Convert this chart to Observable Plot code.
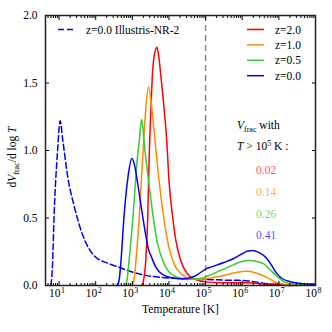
<!DOCTYPE html>
<html><head><meta charset="utf-8">
<script src="https://cdn.jsdelivr.net/npm/d3@7"></script>
<script src="https://cdn.jsdelivr.net/npm/@observablehq/plot@0.6"></script>
<style>body{margin:0;background:#fff}</style>
</head><body><div id="chart"></div>
<script>
// ---- data ----
const seriesNames = ["z=2.0", "z=1.0", "z=0.5", "z=0.0"];
const seriesColors = ["#ff0000", "#ff8c00", "#33cc33", "#0000ff"];
const hotFractions = ["0.02", "0.14", "0.26", "0.41"];
const illustrisName = "z=0.0 Illustris-NR-2";
const illustrisColor = "#0000ff";

const z20_logT = [3.25,3.30,3.37,3.42,3.46,3.51,3.55,3.61,3.67,3.72,3.78,3.87,3.94,4.00,4.10,4.19,4.32,4.50,4.68,5.05,5.50,6.00,6.30,6.60,7.00,7.50];
const z20_val  = [0,0.03,0.20,0.50,0.95,1.32,1.57,1.72,1.765,1.70,1.55,1.30,1.07,0.78,0.51,0.33,0.185,0.087,0.05,0.025,0.02,0.02,0.018,0.01,0.003,0];

const z10_logT = [3.00,3.05,3.10,3.19,3.26,3.31,3.37,3.44,3.53,3.62,3.70,3.78,3.87,4.00,4.14,4.32,4.60,4.84,5.20,5.58,5.90,6.12,6.35,6.59,6.80,6.94,7.20,7.60];
const z10_val  = [0,0.05,0.185,0.51,0.85,1.07,1.32,1.47,1.32,1.07,0.85,0.66,0.48,0.28,0.16,0.089,0.05,0.045,0.06,0.08,0.10,0.105,0.095,0.07,0.04,0.02,0.008,0.002];

const z05_logT = [2.80,2.85,2.92,3.00,3.05,3.14,3.19,3.25,3.29,3.32,3.41,3.51,3.60,3.69,3.83,4.00,4.23,4.50,4.80,5.05,5.40,5.77,6.00,6.18,6.40,6.59,6.75,6.94,7.10,7.29,7.60,8.00];
const z05_val  = [0,0.03,0.21,0.45,0.63,0.95,1.07,1.23,1.17,1.07,0.85,0.63,0.45,0.31,0.185,0.10,0.062,0.045,0.05,0.07,0.11,0.155,0.178,0.185,0.178,0.16,0.12,0.07,0.035,0.015,0.005,0.002];

const z00_logT = [2.55,2.60,2.65,2.69,2.77,2.88,2.99,3.07,3.15,3.29,3.45,3.51,3.64,3.83,4.14,4.41,4.69,5.03,5.14,5.50,5.77,6.00,6.15,6.29,6.45,6.67,6.80,6.94,7.10,7.29,7.60,8.00];
const z00_val  = [0,0.005,0.06,0.18,0.50,0.80,0.94,0.88,0.75,0.50,0.26,0.22,0.136,0.08,0.054,0.05,0.067,0.125,0.136,0.17,0.20,0.235,0.255,0.26,0.245,0.20,0.15,0.09,0.05,0.03,0.015,0.008];

const ill_logT = [0.78,0.82,0.87,0.96,1.03,1.10,1.24,1.42,1.65,1.96,2.33,2.64,3.00,3.37,3.80,4.27,4.60,5.00,5.50,5.90,6.10,6.40,6.70,7.00,7.30];
const ill_val  = [0,0.15,0.555,1.00,1.22,1.08,0.80,0.58,0.37,0.22,0.165,0.135,0.10,0.075,0.06,0.052,0.048,0.045,0.04,0.038,0.036,0.025,0.012,0.005,0];

const yTicks = [0, 0.5, 1.0, 1.5, 2.0];
const xExponents = [1, 2, 3, 4, 5, 6, 7, 8];
const xDomainLog = [0.63, 8];
const cutLogT = 5;

// ---- build tables ----
const seriesLogT = [z20_logT, z10_logT, z05_logT, z00_logT];
const seriesVal = [z20_val, z10_val, z05_val, z00_val];
const rows = seriesNames.flatMap((s, i) => seriesLogT[i].map((t, j) => ({s, T: 10 ** t, v: seriesVal[i][j]})));
const illRows = ill_logT.map((t, j) => ({T: 10 ** t, v: ill_val[j]}));
const majorX = xExponents.map(e => 10 ** e);
const minorX = [];
for (let e = 0; e < 8; e++) for (let m = 2; m <= 9; m++) {
  const v = m * 10 ** e;
  if (v >= 10 ** xDomainLog[0] && v <= 10 ** xDomainLog[1]) minorX.push(v);
}
const FONT = "Liberation Serif";

const plot = Plot.plot({
  width: 332, height: 332,
  marginLeft: 45, marginRight: 17, marginTop: 15, marginBottom: 47,
  style: {fontFamily: FONT, fontSize: "11.5px", background: "#fff", color: "#000"},
  x: {type: "log", domain: xDomainLog.map(e => 10 ** e)},
  y: {domain: [0, 2]},
  color: {domain: seriesNames, range: seriesColors},
  marks: [
    Plot.ruleX([10 ** cutLogT], {stroke: "#808080", strokeWidth: 1.4, strokeDasharray: "6,4"}),
    Plot.line(illRows, {x: "T", y: "v", stroke: illustrisColor, strokeWidth: 1.5, strokeDasharray: "6,3", curve: "monotone-x"}),
    Plot.line(rows, {x: "T", y: "v", z: "s", stroke: "s", strokeWidth: 1.5, curve: "monotone-x"}),
    // inward ticks
    Plot.axisX({anchor: "bottom", ticks: majorX, tickSize: -4, fill: "none", label: null}),
    Plot.axisX({anchor: "top", ticks: majorX, tickSize: -4, fill: "none", label: null}),
    Plot.axisX({anchor: "bottom", ticks: minorX, tickSize: -2, fill: "none", label: null}),
    Plot.axisX({anchor: "top", ticks: minorX, tickSize: -2, fill: "none", label: null}),
    Plot.axisY({anchor: "left", ticks: yTicks, tickSize: -4, fill: "none", label: null}),
    Plot.axisY({anchor: "right", ticks: yTicks, tickSize: -4, fill: "none", label: null}),
    // tick labels
    Plot.axisY({anchor: "left", ticks: yTicks, tickSize: 0, tickPadding: 8, tickFormat: d3.format(".1f"), label: null}),
    Plot.text(majorX, {x: d => d, frameAnchor: "bottom", dy: 11, dx: 1.5, text: () => "10", textAnchor: "end", fontSize: 11.5}),
    Plot.text(majorX, {x: d => d, frameAnchor: "bottom", dy: 7.5, dx: 2, text: d => String(Math.round(Math.log10(d))), textAnchor: "start", fontSize: 8}),
    Plot.text(["Temperature [K]"], {frameAnchor: "bottom", dy: 27, text: d => d, fontSize: 11.5}),
    Plot.frame({stroke: "#222", strokeWidth: 1.5})
  ]
});
document.getElementById("chart").append(plot);

// ---- labels, legends, annotation (pixel layout) ----
const svg = d3.select(plot);
// y label
const yl = svg.append("text").attr("transform", "translate(16,157) rotate(-90)")
  .attr("text-anchor", "middle").attr("font-family", FONT).attr("font-size", 11.5).attr("fill", "#000");
yl.append("tspan").text("d");
yl.append("tspan").attr("font-style", "italic").text("V");
yl.append("tspan").attr("font-size", 8).attr("dy", 2.5).text("frac");
yl.append("tspan").attr("dy", -2.5).text("/d log ");
yl.append("tspan").attr("font-style", "italic").text("T");

// legends and annotation
const lg = svg.append("g").attr("font-family", FONT).attr("font-size", 11.5).attr("text-anchor", "start").attr("fill", "#000");
lg.append("line").attr("x1", 58).attr("x2", 74).attr("y1", 29.5).attr("y2", 29.5)
  .attr("stroke", illustrisColor).attr("stroke-width", 1.5).attr("stroke-dasharray", "6,3");
lg.append("text").attr("x", 86).attr("y", 33.5).text(illustrisName);

seriesNames.forEach((s, i) => {
  const y = 29.5 + i * 15.4;
  lg.append("line").attr("x1", 247).attr("x2", 264).attr("y1", y).attr("y2", y)
    .attr("stroke", seriesColors[i]).attr("stroke-width", 1.5);
  lg.append("text").attr("x", 275).attr("y", y + 4).text(s);
});

const a1 = lg.append("text").attr("x", 237).attr("y", 129);
a1.append("tspan").attr("font-style", "italic").text("V");
a1.append("tspan").attr("font-size", 8).attr("dy", 2.5).text("frac");
a1.append("tspan").attr("dy", -2.5).text(" with");
const a2 = lg.append("text").attr("x", 237).attr("y", 150);
a2.append("tspan").attr("font-style", "italic").text("T");
a2.append("tspan").text(" > 10");
a2.append("tspan").attr("font-size", 8).attr("dy", -4).text("5");
a2.append("tspan").attr("dy", 4).text(" K :");
hotFractions.forEach((f, i) => {
  lg.append("text").attr("x", 256).attr("y", 174 + i * 21.8)
    .attr("fill", seriesColors[i]).attr("fill-opacity", 0.72).text(f);
});
</script></body></html>
